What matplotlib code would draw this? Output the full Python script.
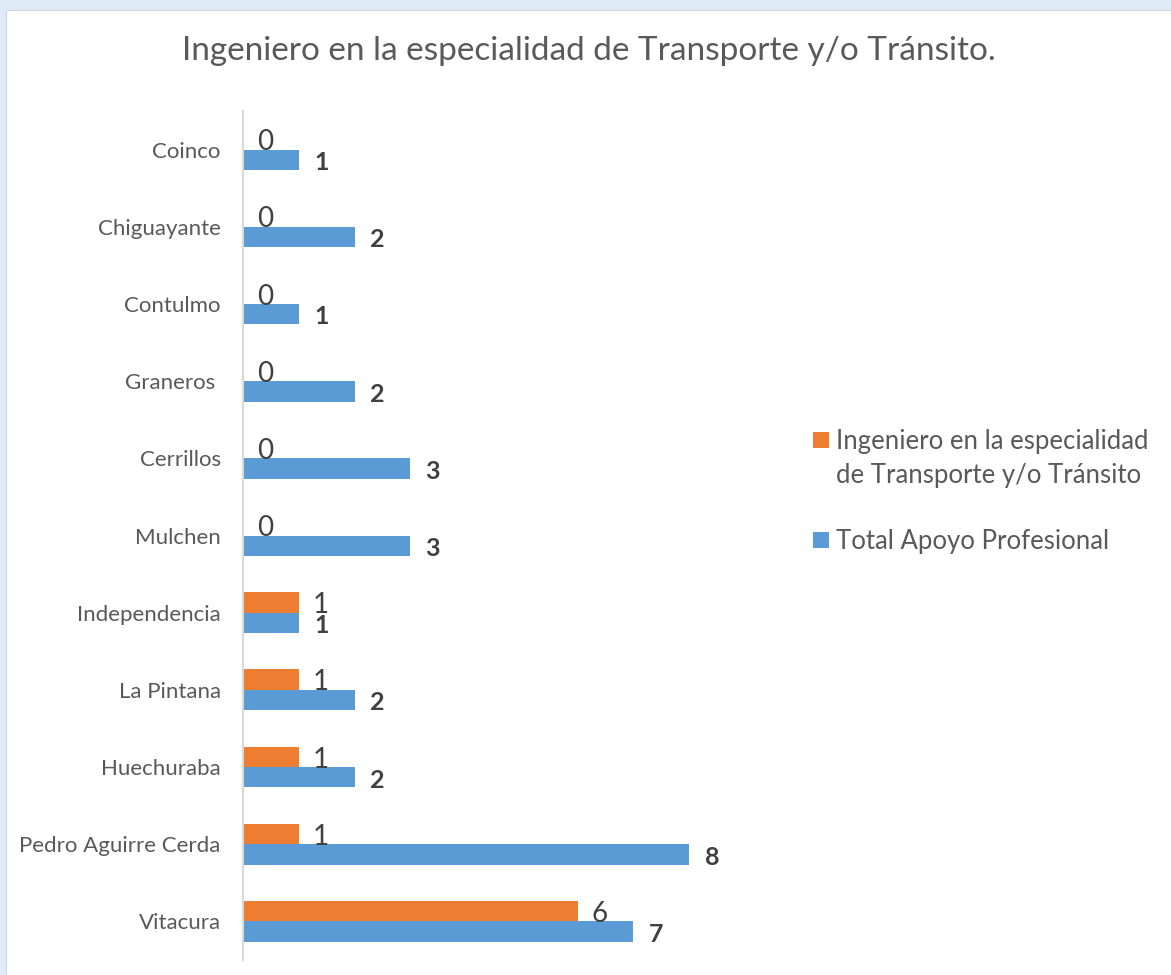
import matplotlib.pyplot as plt
from matplotlib.patches import Rectangle
import numpy as np

plt.rcParams['font.family'] = ['Lato', 'DejaVu Sans']

# data, listed bottom to top
comunas = ["Vitacura", "Pedro Aguirre Cerda", "Huechuraba", "La Pintana",
           "Independencia", "Mulchen", "Cerrillos", "Graneros ", "Contulmo",
           "Chiguayante", "Coinco"]
ingeniero = [6, 1, 1, 1, 1, 0, 0, 0, 0, 0, 0]
total_apoyo = [7, 8, 2, 2, 1, 3, 3, 2, 1, 2, 1]

label_ing = "Ingeniero en la especialidad\nde Transporte y/o Tránsito"
label_tot = "Total Apoyo Profesional"
title = "Ingeniero en la especialidad de Transporte y/o Tránsito."

ORANGE = "#ED7D31"
BLUE = "#5B9BD5"
GREY_TXT = "#595959"
NUM_TXT = "#404040"

W, H = 1171, 975
fig = plt.figure(figsize=(W / 100, H / 100), dpi=100)
fig.patch.set_facecolor("#DEEAF6")

# white chart panel
fig.patches.append(Rectangle((6 / W, -0.01), 1.02, (H - 10) / H + 0.01,
                             transform=fig.transFigure, facecolor="white",
                             edgecolor="#D0D7DE", linewidth=0.8, zorder=-10))

ax = fig.add_axes([243 / W, 15 / H, 502 / W, 849 / H])
ax.set_facecolor("none")
ax.set_zorder(5)

y = np.arange(len(comunas))
h = 0.265
bars_ing = ax.barh(y + h / 2, ingeniero, height=h, color=ORANGE)
bars_tot = ax.barh(y - h / 2, total_apoyo, height=h, color=BLUE)

for b, v in zip(bars_ing, ingeniero):
    ax.annotate(str(v), xy=(b.get_width(), b.get_y() + b.get_height() / 2),
                xytext=(10, -2), textcoords="offset points",
                ha="left", va="center", fontsize=20, color=NUM_TXT)
for b, v in zip(bars_tot, total_apoyo):
    ax.annotate(str(v), xy=(b.get_width(), b.get_y() + b.get_height() / 2),
                xytext=(11, -2), textcoords="offset points",
                ha="left", va="center", fontsize=18, fontweight="bold",
                color=NUM_TXT)

ax.set_xlim(0, 9)
ax.set_ylim(-0.5, len(comunas) - 0.5)
ax.set_yticks(y)
ax.set_yticklabels(comunas, fontsize=16, color=GREY_TXT)
ax.tick_params(axis="y", length=0, pad=16)
ax.set_xticks([])
for s in ["top", "right", "bottom"]:
    ax.spines[s].set_visible(False)
ax.spines["left"].set_color("#D9D9D9")
ax.spines["left"].set_linewidth(1.5)

fig.text(0.5 * (6 + W) / W, 1 - 51 / H, title, ha="center", va="center",
         fontsize=24, color=GREY_TXT)

# legend drawn by hand so the marker sits on the first text line
for col, lab, ytop in [(ORANGE, label_ing, 432), (BLUE, label_tot, 532)]:
    fig.patches.append(Rectangle((813 / W, 1 - (ytop + 16) / H), 16 / W, 16 / H,
                                 transform=fig.transFigure, facecolor=col,
                                 edgecolor="none"))
    fig.text(836 / W, 1 - (ytop - 3) / H, lab, ha="left", va="top",
             fontsize=18.5, color=GREY_TXT, linespacing=1.45)

fig.savefig("out.png", dpi=100)
